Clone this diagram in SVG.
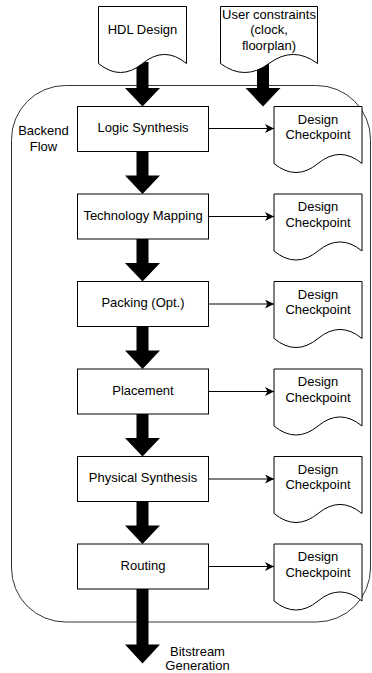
<svg xmlns="http://www.w3.org/2000/svg" width="372" height="673" viewBox="0 0 372 673">
  <style>
    .box { fill: #fff; stroke: #000; stroke-width: 1; }
    .doc { fill: #fff; stroke: #000; stroke-width: 1; }
    .cont { fill: none; stroke: #333; stroke-width: 1; }
    .big { fill: #000; stroke: none; }
    .thin { fill: none; stroke: #000; stroke-width: 1; }
    text { font-family: "Liberation Sans", Arial, sans-serif; font-size: 13px; fill: #000; text-anchor: middle; }
  </style>
  <defs>
    <marker id="ah" markerUnits="userSpaceOnUse" markerWidth="10" markerHeight="9" refX="9" refY="4.5" orient="auto">
      <path d="M0,0 L9,4.5 L0,9 L2.5,4.5 Z" fill="#000"/>
    </marker>
  </defs>

  <g id="backend-flow">
    <rect class="cont" x="11.5" y="85.5" width="359" height="536.5" rx="54" ry="54"/>
    <text x="43.5" y="135">Backend</text>
    <text x="43.5" y="150.5">Flow</text>
  </g>

  <g id="connectors">
    <polygon class="big" points="136.5,62 148.5,62 148.5,88 160,88 142.5,106.5 125,88 136.5,88"/>
    <polygon class="big" points="257,62 269,62 269,88 280.5,88 263,106.5 245.5,88 257,88"/>
    <polygon class="big" points="136.5,151.5 148.5,151.5 148.5,175.5 160,175.5 142.5,194 125,175.5 136.5,175.5"/>
    <polygon class="big" points="136.5,239 148.5,239 148.5,263 160,263 142.5,281.5 125,263 136.5,263"/>
    <polygon class="big" points="136.5,326.5 148.5,326.5 148.5,350.5 160,350.5 142.5,369 125,350.5 136.5,350.5"/>
    <polygon class="big" points="136.5,414 148.5,414 148.5,438 160,438 142.5,456.5 125,438 136.5,438"/>
    <polygon class="big" points="136.5,501.5 148.5,501.5 148.5,525.5 160,525.5 142.5,544 125,525.5 136.5,525.5"/>
    <polygon class="big" points="136.5,589 148.5,589 148.5,644.5 160,644.5 142.5,663.5 125,644.5 136.5,644.5"/>
    <line class="thin" x1="208.5" y1="128.5" x2="274" y2="128.5" marker-end="url(#ah)"/>
    <line class="thin" x1="208.5" y1="216.5" x2="274" y2="216.5" marker-end="url(#ah)"/>
    <line class="thin" x1="208.5" y1="304" x2="274" y2="304" marker-end="url(#ah)"/>
    <line class="thin" x1="208.5" y1="391.5" x2="274" y2="391.5" marker-end="url(#ah)"/>
    <line class="thin" x1="208.5" y1="479" x2="274" y2="479" marker-end="url(#ah)"/>
    <line class="thin" x1="208.5" y1="566.5" x2="274" y2="566.5" marker-end="url(#ah)"/>
  </g>

  <g id="hdl-design">
    <path class="doc" d="M98.5,6.5 H186.5 V63.5 Q164.5,45.4 142.5,63.5 Q120.5,81.5 98.5,63.5 Z"/>
    <text x="142.5" y="33.5">HDL Design</text>
  </g>
  <g id="user-constraints">
    <path class="doc" d="M220.5,6.5 H317.5 V63.5 Q293.25,45.4 269,63.5 Q244.75,81.5 220.5,63.5 Z"/>
    <text x="269" y="18.5">User constraints</text>
    <text x="269" y="34">(clock,</text>
    <text x="269" y="49.5">floorplan)</text>
  </g>

  <g id="logic-synthesis">
    <rect class="box" x="77.5" y="106.5" width="131" height="45"/>
    <text x="143" y="132">Logic Synthesis</text>
  </g>
  <g id="technology-mapping">
    <rect class="box" x="77.5" y="194" width="131" height="45"/>
    <text x="143" y="219.5">Technology Mapping</text>
  </g>
  <g id="packing">
    <rect class="box" x="77.5" y="281.5" width="131" height="45"/>
    <text x="143" y="307">Packing (Opt.)</text>
  </g>
  <g id="placement">
    <rect class="box" x="77.5" y="369" width="131" height="45"/>
    <text x="143" y="394.5">Placement</text>
  </g>
  <g id="physical-synthesis">
    <rect class="box" x="77.5" y="456.5" width="131" height="45"/>
    <text x="143" y="482">Physical Synthesis</text>
  </g>
  <g id="routing">
    <rect class="box" x="77.5" y="544" width="131" height="45"/>
    <text x="143" y="569.5">Routing</text>
  </g>

  <g id="checkpoint-1">
    <path class="doc" d="M274,106.5 H362 V163.5 Q340,145.4 318,163.5 Q296,181.5 274,163.5 Z"/>
    <text x="318" y="123.5">Design</text>
    <text x="318" y="139">Checkpoint</text>
  </g>
  <g id="checkpoint-2">
    <path class="doc" d="M274,194 H362 V251 Q340,232.9 318,251 Q296,269 274,251 Z"/>
    <text x="318" y="211">Design</text>
    <text x="318" y="226.5">Checkpoint</text>
  </g>
  <g id="checkpoint-3">
    <path class="doc" d="M274,281.5 H362 V338.5 Q340,320.4 318,338.5 Q296,356.5 274,338.5 Z"/>
    <text x="318" y="298.5">Design</text>
    <text x="318" y="314">Checkpoint</text>
  </g>
  <g id="checkpoint-4">
    <path class="doc" d="M274,369 H362 V426 Q340,407.9 318,426 Q296,444 274,426 Z"/>
    <text x="318" y="386">Design</text>
    <text x="318" y="401.5">Checkpoint</text>
  </g>
  <g id="checkpoint-5">
    <path class="doc" d="M274,456.5 H362 V513.5 Q340,495.4 318,513.5 Q296,531.5 274,513.5 Z"/>
    <text x="318" y="473.5">Design</text>
    <text x="318" y="489">Checkpoint</text>
  </g>
  <g id="checkpoint-6">
    <path class="doc" d="M274,544 H362 V601 Q340,582.9 318,601 Q296,619 274,601 Z"/>
    <text x="318" y="561">Design</text>
    <text x="318" y="576.5">Checkpoint</text>
  </g>

  <g id="bitstream-generation">
    <text x="197.5" y="655.5">Bitstream</text>
    <text x="197.5" y="670">Generation</text>
  </g>
</svg>
